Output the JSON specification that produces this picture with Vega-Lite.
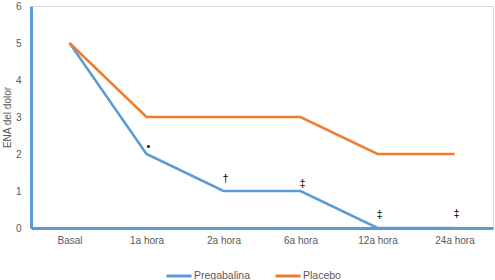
{
  "$schema": "https://vega.github.io/schema/vega-lite/v6.json",
  "width": 462,
  "height": 222,
  "autosize": {"type": "none"},
  "padding": {"left": 31, "top": 6, "right": 2, "bottom": 52},
  "background": "white",
  "config": {
    "font": "Liberation Sans",
    "view": {"stroke": "#D9D9D9", "strokeWidth": 1}
  },
  "datasets": {
    "lines": [
      {"hora": "Basal", "grupo": "Pregabalina", "ena": 5},
      {"hora": "1a hora", "grupo": "Pregabalina", "ena": 2},
      {"hora": "2a hora", "grupo": "Pregabalina", "ena": 1},
      {"hora": "6a hora", "grupo": "Pregabalina", "ena": 1},
      {"hora": "12a hora", "grupo": "Pregabalina", "ena": 0},
      {"hora": "24a hora", "grupo": "Pregabalina", "ena": 0},
      {"hora": "Basal", "grupo": "Placebo", "ena": 5},
      {"hora": "1a hora", "grupo": "Placebo", "ena": 3},
      {"hora": "2a hora", "grupo": "Placebo", "ena": 3},
      {"hora": "6a hora", "grupo": "Placebo", "ena": 3},
      {"hora": "12a hora", "grupo": "Placebo", "ena": 2},
      {"hora": "24a hora", "grupo": "Placebo", "ena": 2}
    ],
    "marks": [
      {"hora": "1a hora", "sig": "•", "ena": 2.2},
      {"hora": "2a hora", "sig": "†", "ena": 1.33},
      {"hora": "6a hora", "sig": "‡", "ena": 1.19},
      {"hora": "12a hora", "sig": "‡", "ena": 0.36},
      {"hora": "24a hora", "sig": "‡", "ena": 0.38}
    ]
  },
  "encoding": {
    "x": {
      "field": "hora", "type": "ordinal",
      "sort": ["Basal", "1a hora", "2a hora", "6a hora", "12a hora", "24a hora"],
      "scale": {"type": "point", "padding": 0.5},
      "axis": {
        "title": null, "labelAngle": 0, "ticks": false, "grid": false,
        "domainColor": "#5B9BD5", "domainWidth": 3,
        "labelColor": "#595959", "labelFontSize": 10, "labelPadding": 7
      }
    },
    "y": {
      "field": "ena", "type": "quantitative",
      "scale": {"domain": [0, 6], "nice": false},
      "axis": {
        "title": "ENA del dolor", "values": [0, 1, 2, 3, 4, 5, 6], "tickCount": 7,
        "labelOverlap": false, "labelFlush": false,
        "ticks": false, "grid": false,
        "domainColor": "#5B9BD5", "domainWidth": 3,
        "labelColor": "#595959", "labelFontSize": 10, "labelPadding": 10,
        "titleColor": "#595959", "titleFontSize": 10, "titleFontWeight": "normal",
        "titlePadding": 3
      }
    }
  },
  "layer": [
    {
      "data": {"name": "lines"},
      "mark": {"type": "line", "strokeWidth": 2.5},
      "encoding": {
        "color": {
          "field": "grupo", "type": "nominal",
          "sort": ["Pregabalina", "Placebo"],
          "scale": {"domain": ["Pregabalina", "Placebo"], "range": ["#5B9BD5", "#ED7D31"]},
          "legend": {
            "title": null, "orient": "none", "direction": "horizontal",
            "legendX": 134, "legendY": 256,
            "symbolType": "stroke", "symbolSize": 625, "symbolStrokeWidth": 3,
            "labelColor": "#595959", "labelFontSize": 10.5, "labelOffset": 1,
            "columnPadding": 18
          }
        }
      }
    },
    {
      "data": {"name": "marks"},
      "mark": {"type": "text", "fontSize": 11, "color": "#000000", "dx": 2},
      "encoding": {
        "text": {"field": "sig"}
      }
    }
  ]
}
